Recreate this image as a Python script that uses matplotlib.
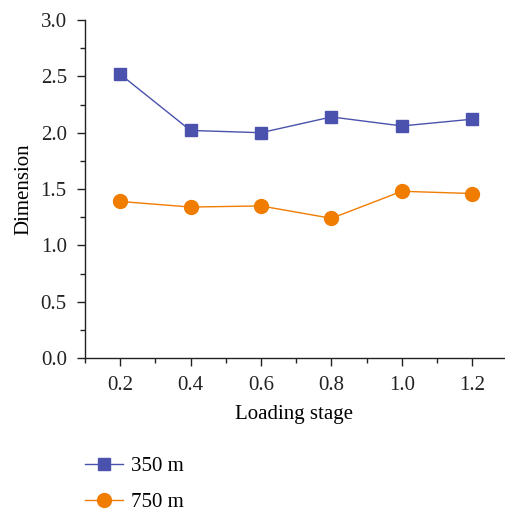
import matplotlib.pyplot as plt
from matplotlib.ticker import MultipleLocator

plt.rcParams['font.family'] = ['Liberation Serif', 'DejaVu Serif']

# data
stages = [0.2, 0.4, 0.6, 0.8, 1.0, 1.2]
dim_350 = [2.52, 2.02, 2.00, 2.14, 2.06, 2.12]
dim_750 = [1.39, 1.34, 1.35, 1.24, 1.48, 1.46]
series_labels = ['350 m', '750 m']

fig = plt.figure(figsize=(5.05, 5.12), dpi=100)
ax = fig.add_axes([0.168, 0.3008, 0.830, 0.660])

ax.plot(stages, dim_350, color='#4a52ad', marker='s', markersize=9,
        linewidth=1.0, label=series_labels[0])
ax.plot(stages, dim_750, color='#f07c00', marker='o', markersize=10,
        linewidth=1.0, label=series_labels[1])

ax.set_xlim(0.1, 1.29)
ax.set_ylim(0.0, 3.0)
ax.xaxis.set_major_locator(MultipleLocator(0.2))
ax.xaxis.set_minor_locator(MultipleLocator(0.1))
ax.yaxis.set_major_locator(MultipleLocator(0.5))
ax.yaxis.set_minor_locator(MultipleLocator(0.25))
ax.xaxis.set_major_formatter(plt.FuncFormatter(lambda v, p: f'{v:.1f}'))
ax.yaxis.set_major_formatter(plt.FuncFormatter(lambda v, p: f'{v:.1f}'))

for side in ['top', 'right']:
    ax.spines[side].set_visible(False)
for side in ['left', 'bottom']:
    ax.spines[side].set_linewidth(1.0)
    ax.spines[side].set_color('#222222')

ax.tick_params(which='major', direction='out', length=6, width=1.0,
               labelsize=15, colors='#222222', pad=7)
ax.tick_params(which='minor', direction='out', length=3.5, width=1.0,
               colors='#222222')

ax.set_xlabel('Loading stage', fontsize=15, labelpad=7)
ax.set_ylabel('Dimension', fontsize=15, labelpad=5)

fig.legend(loc='center left', bbox_to_anchor=(0.152, 0.054), frameon=False,
           fontsize=15, handlelength=1.8, labelspacing=0.8, handletextpad=0.4,
           borderaxespad=0)

fig.savefig('out.png', dpi=100)
